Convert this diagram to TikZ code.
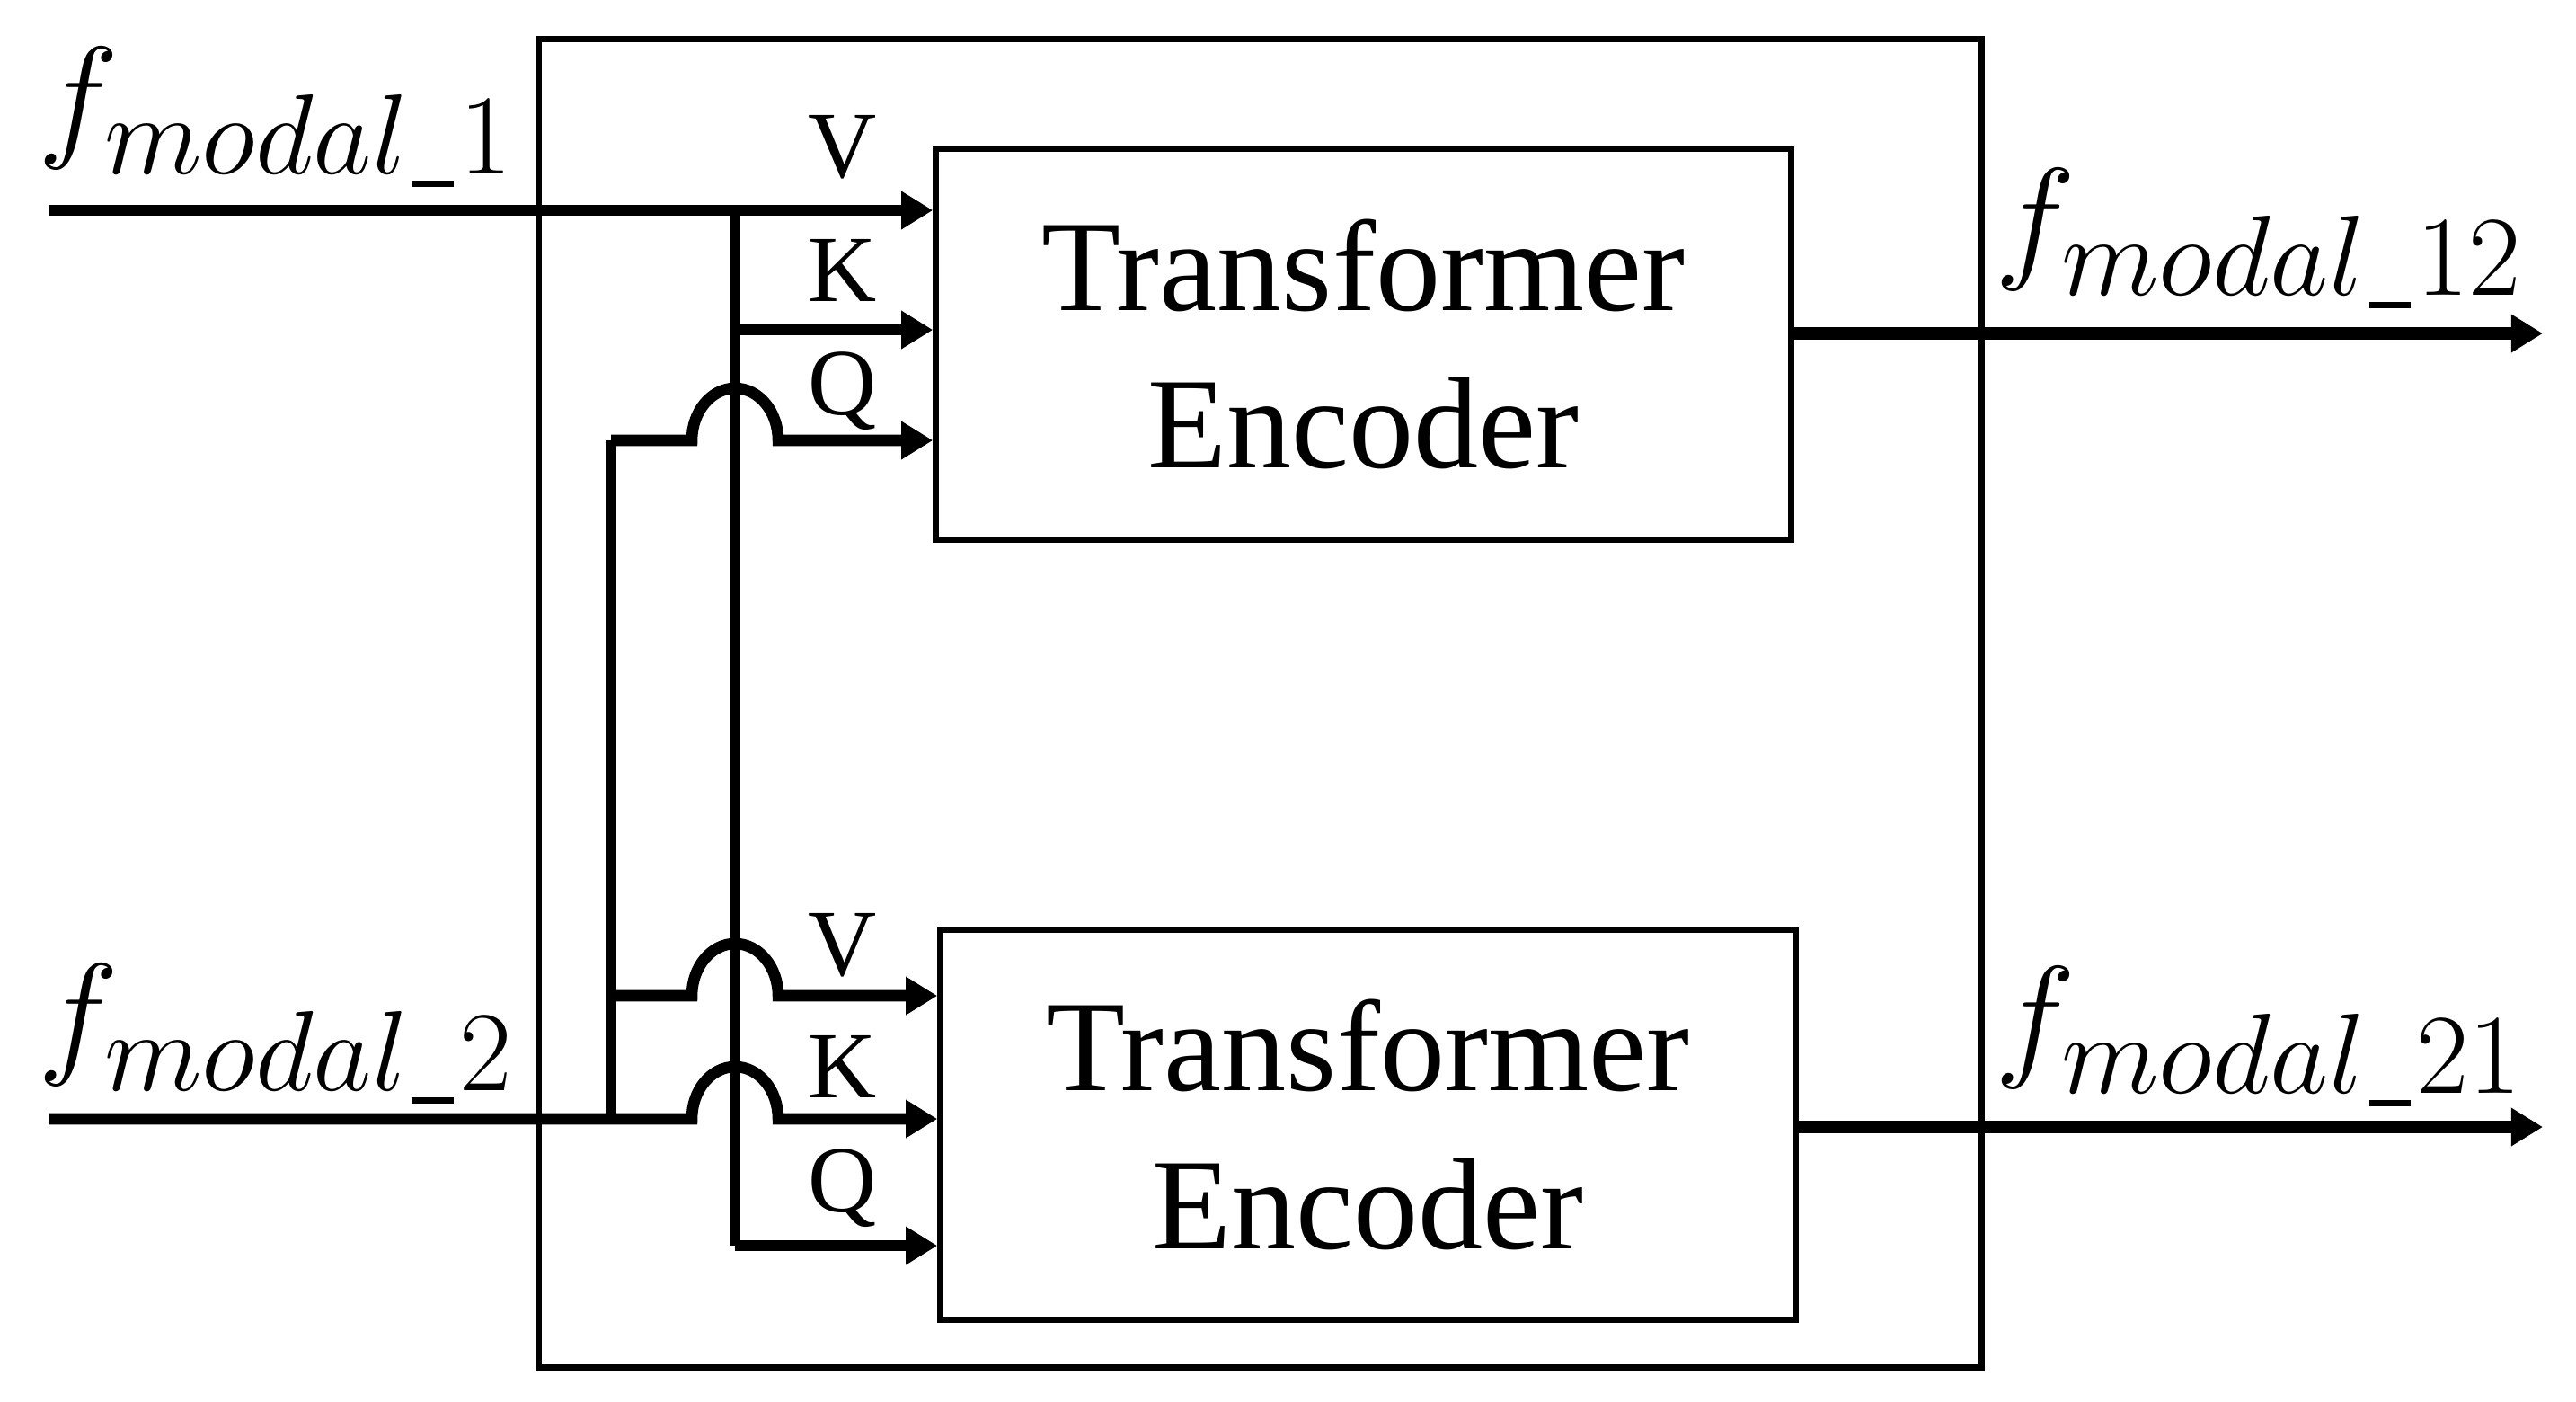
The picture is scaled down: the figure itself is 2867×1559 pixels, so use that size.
\documentclass[tikz,border=0pt]{standalone}
\usepackage{amsmath}
\usepackage{graphicx}
\usepackage{fontspec}
\setmainfont{Liberation Serif}
\usetikzlibrary{arrows.meta,calc}
\DeclareMathSizes{24.88}{24.88}{20.74}{17.28}
\newcommand{\usc}{\text{\kern0.04em\rule[-0.11em]{0.36em}{0.055em}\kern0.05em}}
\newcommand{\fmod}[1]{\scalebox{1.74}{$f_{modal\usc#1}$}}
\begin{document}
\begin{tikzpicture}[x=0.01cm,y=-0.01cm,
  wire/.style={line width=3.6pt},
  vwire/.style={line width=3.2pt},
  arr/.style={wire,-{Triangle[length=10pt,width=11.5pt]}},
  box/.style={draw,line width=2pt,inner sep=0pt},
  enc/.style={box,minimum width=9.51cm,minimum height=4.34cm,font=\fontsize{41}{50}\selectfont,align=center},
  lbl/.style={font=\fontsize{30}{30}\selectfont,anchor=base,inner sep=0pt},
  flab/.style={font=\fontsize{24.88}{30}\selectfont,anchor=base west,inner sep=0pt}]
\useasboundingbox (0,0) rectangle (2867,1559);
% outer frame
\node[box,minimum width=16.05cm,minimum height=14.77cm] (outer) at (1402.5,782.5) {};
% encoders
\node[enc] (enc1) at (1517.5,383) {Transformer\\Encoder};
\node[enc] (enc2) at (1522.5,1251.5) {Transformer\\Encoder};
% coordinates
\coordinate (in1) at (55,234);
\coordinate (in2) at (55,1245);
\coordinate (j1) at (818,234);
\coordinate (jK1) at (818,367);
\coordinate (jQ2) at (818,1386);
\coordinate (b1) at (680,490);
\coordinate (b2) at (680,1108);
\coordinate (b3) at (680,1245);
\coordinate (out1) at (2830,371);
\coordinate (out2) at (2830,1254);
% main vertical (modal 1)
\draw[vwire] (j1) -- (jQ2);
\draw[arr] (in1) -- (enc1.west |- in1);
\draw[arr] (jK1) -- (enc1.west |- jK1);
\draw[arr] (jQ2) -- (enc2.west |- jQ2);
% modal 2 branch
\draw[wire] (b3) -- (b1);
\draw[arr] (b1) -- ($(b1 -| j1)+(-48,0)$) arc[start angle=180,end angle=0,x radius=0.48cm,y radius=0.58cm] -- (enc1.west |- b1);
\draw[arr] (b2) -- ($(b2 -| j1)+(-48,0)$) arc[start angle=180,end angle=0,x radius=0.48cm,y radius=0.58cm] -- (enc2.west |- b2);
\draw[arr] (in2) -- ($(in2 -| j1)+(-48,0)$) arc[start angle=180,end angle=0,x radius=0.48cm,y radius=0.58cm] -- (enc2.west |- in2);
% outputs
\draw[arr,line width=4pt] (enc1.east |- out1) -- (out1);
\draw[arr,line width=4pt] (enc2.east |- out2) -- (out2);
% labels
\node[lbl] (v1) at (938,197) {V};
\node[lbl] (k1) at (938,335) {K};
\node[lbl] (q1) at (938,461) {Q};
\node[lbl] (v2) at (938,1085) {V};
\node[lbl] (k2) at (938,1221) {K};
\node[lbl] (q2) at (938,1348) {Q};
\node[flab] (f1) at (42,158) {\fmod{1}};
\node[flab] (f2) at (42,1178) {\fmod{2}};
\node[flab] (f12) at (2220,293) {\fmod{12}};
\node[flab] (f21) at (2220,1181) {\fmod{21}};
\end{tikzpicture}
\end{document}
